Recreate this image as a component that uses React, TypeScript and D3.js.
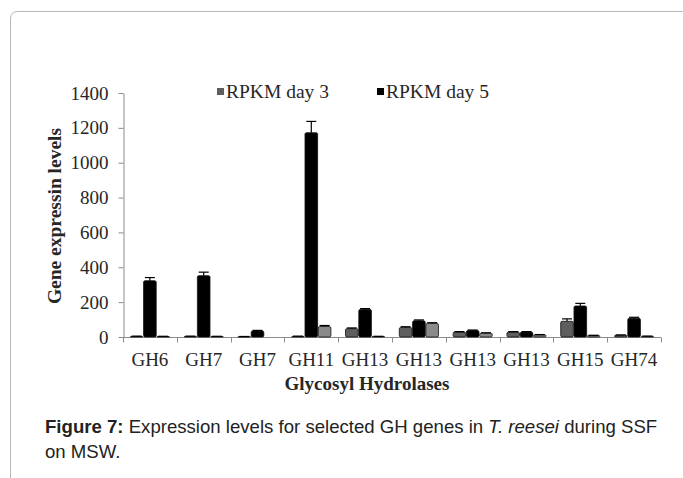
import React, { useEffect, useRef } from "react";
import * as d3 from "d3";

const categories = ["GH6", "GH7", "GH7", "GH11", "GH13", "GH13", "GH13", "GH13", "GH15", "GH74"];
const day3 = [3, 3, 2, 3, 48, 55, 28, 28, 90, 10];
const day3Err = [2, 2, 1, 2, 4, 4, 3, 3, 14, 2];
const day5 = [323, 352, 35, 1172, 158, 93, 37, 28, 178, 108];
const day5Err = [18, 20, 3, 65, 5, 5, 3, 3, 15, 5];
const day7 = [3, 3, 0, 60, 3, 78, 22, 12, 8, 4];
const day7Err = [1, 1, 0, 6, 1, 4, 2, 2, 2, 1];
const yTicks = [0, 200, 400, 600, 800, 1000, 1200, 1400];
const legendLabels = ["RPKM day 3", "RPKM day 5"];

export default function App() {
  const svgRef = useRef<SVGSVGElement>(null);

  useEffect(() => {
    const svg = d3.select(svgRef.current);
    svg.selectAll("*").remove();

    const width = 683;
    const height = 478;
    const margin = { top: 93, right: 22, bottom: 141, left: 123 };
    const serif = "'Liberation Serif', 'Times New Roman', serif";
    const fontSize = "19px";
    const axisColor = "#8c8c8c";
    const textColor = "#262626";

    svg.attr("width", width).attr("height", height);
    svg.append("rect").attr("width", width).attr("height", height).attr("fill", "#fff");

    // page frame
    svg.append("path")
      .attr("d", `M10.5,${height} L10.5,19 Q10.5,11.5 18,11.5 L${width},11.5`)
      .attr("fill", "none")
      .attr("stroke", "#b8b8b8")
      .attr("stroke-width", 1);

    const x0 = d3.scaleBand()
      .domain(categories.map((_, i) => String(i)))
      .range([margin.left, width - margin.right])
      .paddingInner(0)
      .paddingOuter(0);

    const x1 = d3.scaleBand()
      .domain(["d3", "d5", "d7"])
      .range([0, x0.bandwidth()])
      .paddingOuter(0.55)
      .paddingInner(0.05);

    const y = d3.scaleLinear()
      .domain([0, 1400])
      .range([height - margin.bottom, margin.top]);

    // y axis
    const yAxis = d3.axisLeft(y).tickValues(yTicks).tickFormat(d3.format("d")).tickSize(5).tickSizeOuter(0);
    const gy = svg.append("g")
      .attr("transform", `translate(${margin.left + 0.5},0)`)
      .call(yAxis);
    gy.select(".domain").attr("stroke", axisColor);
    gy.selectAll(".tick line").attr("stroke", axisColor);
    gy.selectAll(".tick text")
      .attr("x", -15)
      .attr("fill", textColor)
      .style("font-family", serif)
      .style("font-size", fontSize);

    // x axis
    const baseY = y(0) + 0.5;
    svg.append("line")
      .attr("x1", margin.left).attr("x2", width - margin.right)
      .attr("y1", baseY).attr("y2", baseY)
      .attr("stroke", axisColor);
    const bounds = categories.map((_, i) => x0(String(i)) as number).concat([width - margin.right]);
    svg.selectAll(".xtick")
      .data(bounds)
      .enter()
      .append("line")
      .attr("x1", d => Math.round(d) + 0.5).attr("x2", d => Math.round(d) + 0.5)
      .attr("y1", baseY).attr("y2", baseY + 5)
      .attr("stroke", axisColor);
    svg.selectAll(".xlabel")
      .data(categories)
      .enter()
      .append("text")
      .attr("x", (_, i) => (x0(String(i)) as number) + x0.bandwidth() / 2)
      .attr("y", 366)
      .attr("text-anchor", "middle")
      .attr("fill", textColor)
      .style("font-family", serif)
      .style("font-size", fontSize)
      .text(d => d);

    // bars
    const series = [
      { key: "d3", values: day3, err: day3Err, fill: "#5e5e5e" },
      { key: "d5", values: day5, err: day5Err, fill: "#000000" },
      { key: "d7", values: day7, err: day7Err, fill: "#8a8a8a" },
    ];
    series.forEach(s => {
      const g = svg.append("g");
      g.selectAll("rect")
        .data(s.values)
        .enter()
        .append("rect")
        .attr("x", (_, i) => (x0(String(i)) as number) + (x1(s.key) as number))
        .attr("y", d => y(d))
        .attr("width", x1.bandwidth())
        .attr("height", d => y(0) - y(d))
        .attr("fill", s.fill)
        .attr("stroke", "#111")
        .attr("stroke-width", 0.8)
        .attr("rx", 1.5);
      const cx = (i: number) => (x0(String(i)) as number) + (x1(s.key) as number) + x1.bandwidth() / 2;
      const eg = g.selectAll(".err")
        .data(s.values.map((v, i) => ({ v, e: s.err[i], i })).filter(d => d.v > 0))
        .enter()
        .append("g");
      eg.append("line")
        .attr("x1", d => cx(d.i)).attr("x2", d => cx(d.i))
        .attr("y1", d => y(d.v)).attr("y2", d => y(d.v + d.e))
        .attr("stroke", "#000").attr("stroke-width", 1.2);
      eg.append("line")
        .attr("x1", d => cx(d.i) - 5).attr("x2", d => cx(d.i) + 5)
        .attr("y1", d => y(d.v + d.e)).attr("y2", d => y(d.v + d.e))
        .attr("stroke", "#000").attr("stroke-width", 1.2);
    });

    // legend
    const legendX = [217, 377];
    const legendFill = ["#5e5e5e", "#000000"];
    legendLabels.forEach((label, i) => {
      svg.append("rect")
        .attr("x", legendX[i]).attr("y", 88)
        .attr("width", 7).attr("height", 7)
        .attr("fill", legendFill[i]);
      svg.append("text")
        .attr("x", legendX[i] + 9).attr("y", 98)
        .attr("fill", textColor)
        .style("font-family", serif)
        .style("font-size", "19.5px")
        .text(label);
    });

    // axis titles
    svg.append("text")
      .attr("transform", `translate(61,216) rotate(-90)`)
      .attr("text-anchor", "middle")
      .attr("fill", textColor)
      .style("font-family", serif)
      .style("font-size", "19.5px")
      .style("font-weight", "bold")
      .text("Gene expressin levels");

    svg.append("text")
      .attr("x", 367)
      .attr("y", 390)
      .attr("text-anchor", "middle")
      .attr("fill", textColor)
      .style("font-family", serif)
      .style("font-size", fontSize)
      .style("font-weight", "bold")
      .text("Glycosyl Hydrolases");

    // caption
    const sans = "'Liberation Sans', Arial, sans-serif";
    const cap1 = svg.append("text")
      .attr("x", 45).attr("y", 433)
      .attr("fill", "#222")
      .style("font-family", sans)
      .style("font-size", "18.6px");
    cap1.append("tspan").style("font-weight", "bold").text("Figure 7:");
    cap1.append("tspan").text(" Expression levels for selected GH genes in ");
    cap1.append("tspan").style("font-style", "italic").text("T. reesei");
    cap1.append("tspan").text(" during SSF");
    svg.append("text")
      .attr("x", 45).attr("y", 458)
      .attr("fill", "#222")
      .style("font-family", sans)
      .style("font-size", "18.6px")
      .text("on MSW.");
  }, []);

  return (
    <svg
      ref={svgRef}
      style={{ position: "absolute", left: 0, top: 0, display: "block" }}
    />
  );
}
